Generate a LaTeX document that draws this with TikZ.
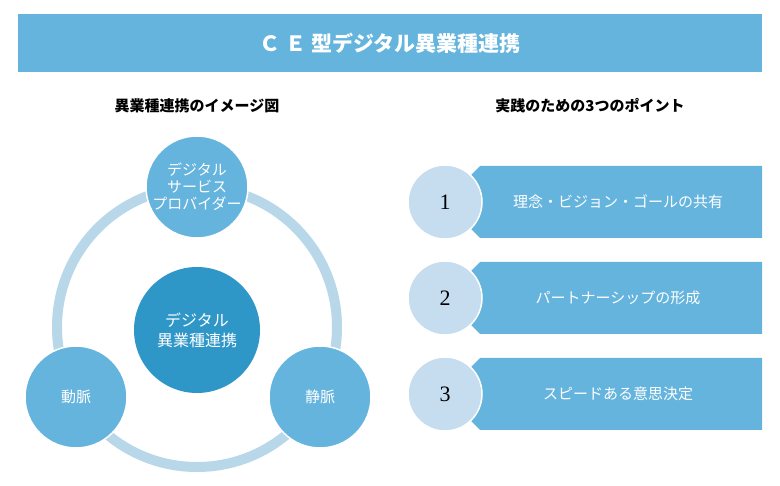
\documentclass[tikz,border=0pt]{standalone}
\usepackage{fontspec}
\setmainfont{Noto Sans CJK JP}
\newfontfamily\numfont{Liberation Serif}
\begin{document}
\begin{tikzpicture}[x=1pt,y=-1pt,
  blue/.style={fill=c1,draw=none},
  sat/.style={circle,fill=c1,draw=white,line width=1.5pt,minimum size=102pt,inner sep=0pt,text=white,font=\fontsize{15}{17}\selectfont,align=center},
  numc/.style={circle,fill=c3,draw=white,line width=1.5pt,minimum size=74pt,inner sep=0pt,font=\numfont\fontsize{22}{22}\selectfont},
  lbl/.style={text=white,font=\fontsize{15}{17}\selectfont}]
\definecolor{c1}{HTML}{65B4DD}
\definecolor{c2}{HTML}{2F96C8}
\definecolor{c3}{HTML}{C6DDF0}
\definecolor{ring}{HTML}{B8D8EA}
\useasboundingbox (0,0) rectangle (780,486);
\fill[white] (0,0) rectangle (780,486);
\fill[c1] (18,14) rectangle (762,72);
\node[text=white,font=\bfseries\fontsize{21}{22}\selectfont] (title) at (390,43) {Ｃ Ｅ 型デジタル異業種連携};
\node[font=\bfseries\fontsize{15}{17}\selectfont] (h1) at (197,106) {異業種連携のイメージ図};
\node[font=\bfseries\fontsize{15}{17}\selectfont] (h2) at (590,106) {実践のための3つのポイント};
\draw[ring,line width=10pt] (197,327) circle (140);
\node[circle,fill=c2,minimum size=126pt,inner sep=0pt,text=white,font=\fontsize{16}{20}\selectfont,align=center] (center) at (197,330) {デジタル\\異業種連携};
\node[sat] (top) at (197,187) {デジタル\\サービス\\プロバイダー};
\node[sat] (left) at (76,397) {動脈};
\node[sat] (right) at (320,397) {静脈};
\foreach \y/\n/\t in {202/1/理念・ビジョン・ゴールの共有, 298/2/パートナーシップの形成, 394/3/スピードある意思決定}{
  \fill[c1] (480,\y-36) -- (762,\y-36) -- (762,\y+36) -- (480,\y+36) -- (444,\y) -- cycle;
  \node[numc] (n\n) at (445,\y) {\n};
  \node[lbl] (t\n) at (618,\y) {\t};
}
\end{tikzpicture}
\end{document}
